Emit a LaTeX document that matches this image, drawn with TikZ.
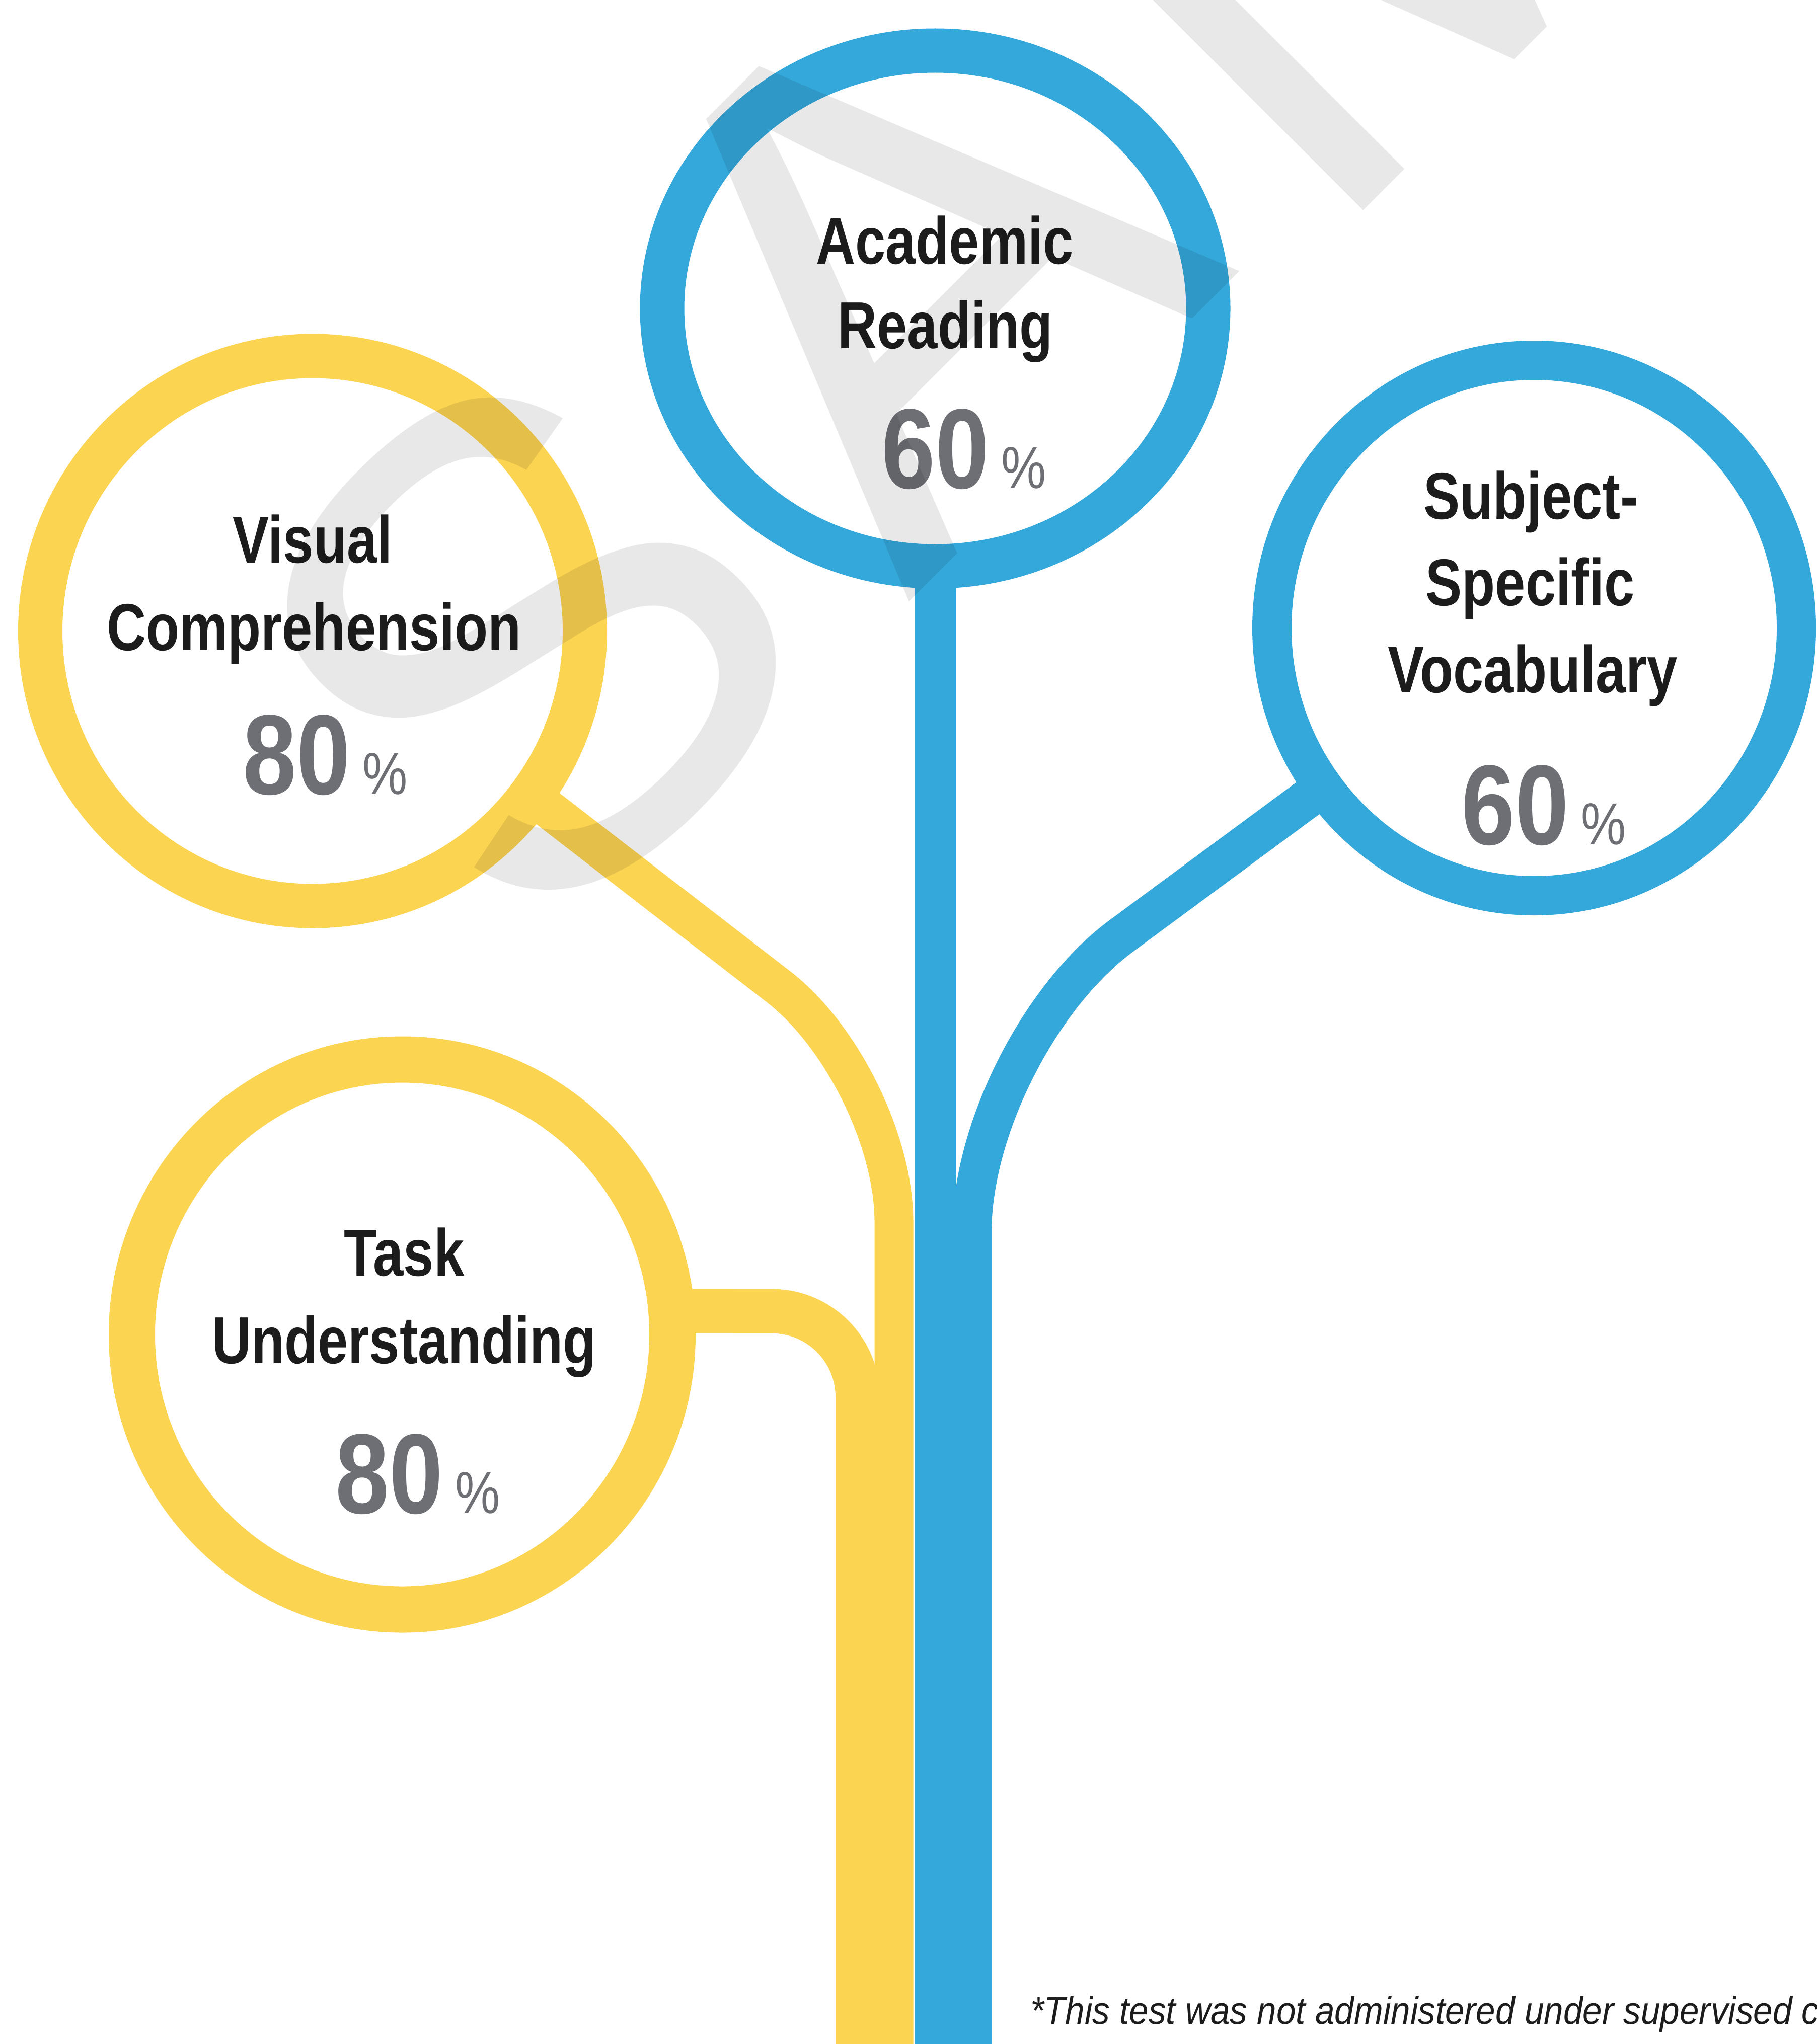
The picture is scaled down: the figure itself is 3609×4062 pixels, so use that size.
\documentclass[tikz,border=0pt]{standalone}
\usepackage{fontspec}
\setmainfont{Liberation Sans}
\newfontfamily\lblfam[FakeStretch=0.82]{Liberation Sans}
\newfontfamily\numfam[FakeStretch=0.85]{Liberation Sans}
\newfontfamily\notefam[FakeStretch=0.9]{Liberation Sans}
\usetikzlibrary{shapes.geometric}
\pgfdeclarelayer{bg}
\pgfsetlayers{bg,main}
\definecolor{ylw}{HTML}{FBD452}
\definecolor{blu}{HTML}{34A8DA}
\definecolor{numgray}{HTML}{6D6F74}
\definecolor{lblcol}{HTML}{1C1C1C}
\newcommand\pctval[1]{{\numfam\bfseries\fontsize{226}{240}\selectfont #1}\kern24pt{\numfam\fontsize{118}{130}\selectfont\%}}
\begin{document}
\begin{tikzpicture}[x=1pt,y=-1pt,
  ringnode/.style={ellipse, draw, fill=none, inner sep=0pt, outer sep=0pt},
  branch/.style={line cap=butt, line join=round},
  lbl/.style={anchor=base, inner sep=0pt, text=lblcol, font=\lblfam\bfseries\fontsize{132}{150}\selectfont},
  pctnode/.style={anchor=base, inner sep=0pt, text=numgray},
  notestyle/.style={anchor=base west, inner sep=0pt, text=lblcol, font=\notefam\itshape\fontsize{77}{90}\selectfont},
  wmstyle/.style={rotate=45, inner sep=0pt, text=black, text opacity=0.09}
]
\useasboundingbox (0,0) rectangle (3609,4062);

% rings
\node[ringnode, draw=blu, line width=88pt, minimum width=1085pt, minimum height=1025pt] (acad) at (1858,613) {};
\node[ringnode, draw=ylw, line width=88pt, minimum width=1082pt, minimum height=1093pt] (vis) at (621,1254) {};
\node[ringnode, draw=blu, line width=78pt, minimum width=1042pt, minimum height=1064pt] (subj) at (3048,1248) {};
\node[ringnode, draw=ylw, line width=92pt, minimum width=1074pt, minimum height=1093pt] (task) at (799,2652) {};

% branch coordinates
\coordinate (bottom) at (0,4062);
\coordinate (vcorner) at (1776,2138);
\coordinate (tcorner) at (1704,2606);
\coordinate (scorner) at (1931,2079);

\begin{pgfonlayer}{bg}
\draw[branch, draw=ylw, line width=88pt, rounded corners=170pt] (task.5) -- (tcorner) -- (tcorner |- bottom);
\draw[branch, draw=ylw, line width=77pt, rounded corners=290pt] (vis.-37) -- (vcorner) -- (vcorner |- bottom);
\draw[branch, draw=blu, line width=78pt, rounded corners=370pt] (subj.217) -- (scorner) -- (scorner |- bottom);
\draw[branch, draw=blu, line width=82pt] (acad.south) -- (acad.south |- bottom);
\end{pgfonlayer}

% labels
\node[lbl] (acad1) at (1877,524) {Academic};
\node[lbl] (acad2) at (1878,692) {Reading};
\node[pctnode] (acadp) at (1915,970) {\pctval{60}};

\node[lbl] (vis1) at (621,1118) {Visual};
\node[lbl] (vis2) at (624,1292) {Comprehension};
\node[pctnode] (visp) at (646,1578) {\pctval{80}};

\node[lbl] (subj1) at (3042,1031) {Subject-};
\node[lbl] (subj2) at (3040,1203) {Specific};
\node[lbl] (subj3) at (3045,1376) {Vocabulary};
\node[pctnode] (subjp) at (3067,1678) {\pctval{60}};

\node[lbl] (task1) at (803,2535) {Task};
\node[lbl] (task2) at (803,2709) {Understanding};
\node[pctnode] (taskp) at (830,3007) {\pctval{80}};

% footnote
\node[notestyle] (note) at (2047,4022) {*This test was not administered under supervised c};

% watermark letters (translucent, on top)
\node[wmstyle, anchor=center, font=\fontsize{1350}{1350}\selectfont] (wmS) at (1046,1278) {S};
\node[wmstyle, anchor=center, font=\fontsize{1400}{1400}\selectfont] (wmA) at (1794,527) {A};
\node[wmstyle, anchor=base, font=\fontsize{1400}{1400}\selectfont] (wmM) at (3040,87) {M};
\end{tikzpicture}
\end{document}
